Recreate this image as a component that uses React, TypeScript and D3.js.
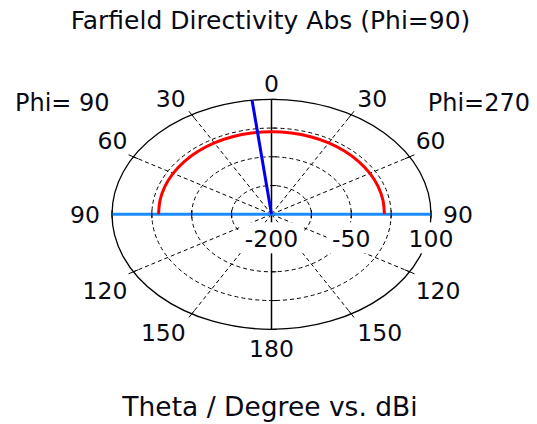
import React from "react";
import * as d3 from "d3";

// Farfield cut, Phi=90 (left half) / Phi=270 (right half)
const thetaDeg = [-90, -80, -70, -60, -50, -40, -30, -20, -10, 0, 10, 20, 30, 40, 50, 60, 70, 80, 90];
const directivity = [12.4, 12.8, 13.3, 13.8, 14.2, 14.6, 15.0, 15.2, 15.35, 15.4, 15.35, 15.2, 15.0, 14.6, 14.2, 13.8, 13.3, 12.8, 12.4];

const mainLobeTheta = -7;
const beamEdges = [-90, 90];

const ringValues = [-125, -50, 25, 100];
const radialLabelValues = [-200, -50, 100];
const spokeAngles = [30, 60, 120, 150, 210, 240, 300, 330];
const angleLabels = [0, 30, 60, 90, 120, 150, 180, -150, -120, -90, -60, -30];

const W = 537;
const H = 424;
const cx = 271.5;
const cy = 214.3;
const rx = 159.5;
const ry = 115;
const font = "'DejaVu Sans', Verdana, sans-serif";
const ink = "#0a0a14";

const rad = (deg: number) => (deg * Math.PI) / 180;

export default function App() {
  const r = d3.scaleLinear().domain([-200, 100]).range([0, 1]);

  const pt = (theta: number, frac: number): [number, number] => [
    cx + Math.sin(rad(theta)) * frac * rx,
    cy - Math.cos(rad(theta)) * frac * ry,
  ];

  const line = d3.line<[number, number]>().curve(d3.curveCatmullRom);
  const curve = line(thetaDeg.map((t, i) => pt(t, r(directivity[i]))));

  const labelPos = (theta: number) => {
    const [ex, ey] = pt(theta, 1);
    const s = Math.sin(rad(theta));
    const c = Math.cos(rad(theta));
    let anchor = "middle";
    let x = ex;
    const gap = Math.abs(c) < 0.01 ? 12 : 6;
    if (s > 0.01) { anchor = "start"; x = ex + gap; }
    else if (s < -0.01) { anchor = "end"; x = ex - gap; }
    let y = ey;
    if (c > 0.01) y = ey - 16;
    else if (c < -0.01) y = ey + 19;
    return { x, y: y + 8.5, anchor };
  };

  const labelW = (v: number) => String(v).length * 14.5;

  return (
    <svg width={W} height={H} style={{ position: "absolute", left: 0, top: 0, background: "#fff" }}>
      <text x={270.5} y={29} textAnchor="middle" fontFamily={font} fontSize={25} fill={ink}>
        Farfield Directivity Abs (Phi=90)
      </text>

      {/* dashed rings */}
      {ringValues.slice(0, -1).map((v) => (
        <ellipse key={v} cx={cx} cy={cy} rx={r(v) * rx} ry={r(v) * ry}
          fill="none" stroke="#000" strokeWidth={1} strokeDasharray="4,3" />
      ))}
      {/* dashed spokes */}
      {spokeAngles.map((a) => {
        const [x2, y2] = pt(a, 1);
        return <line key={a} x1={cx} y1={cy} x2={x2} y2={y2}
          stroke="#000" strokeWidth={1} strokeDasharray="4,3" />;
      })}
      {/* outer ring */}
      <ellipse cx={cx} cy={cy} rx={rx} ry={ry} fill="none" stroke="#000" strokeWidth={1.3} />
      {spokeAngles.map((a) => {
        const [x1, y1] = pt(a, 0.965);
        const [x2, y2] = pt(a, 1.035);
        return <line key={"t" + a} x1={x1} y1={y1} x2={x2} y2={y2} stroke="#000" strokeWidth={1} />;
      })}
      {/* axes */}
      <line x1={cx} y1={cy - ry} x2={cx} y2={cy + ry} stroke="#000" strokeWidth={1.5} />
      <line x1={cx - rx} y1={cy} x2={cx + rx} y2={cy} stroke="#000" strokeWidth={1.5} />
      {ringValues.map((v) => (
        <g key={"a" + v}>
          <line x1={cx} y1={cy - r(v) * ry} x2={cx + 5} y2={cy - r(v) * ry} stroke="#000" strokeWidth={1} />
          <line x1={cx} y1={cy + r(v) * ry} x2={cx + 5} y2={cy + r(v) * ry} stroke="#000" strokeWidth={1} />
        </g>
      ))}

      {/* radial labels with white backing */}
      {radialLabelValues.map((v) => {
        const w = labelW(v) + 6;
        return (
          <g key={"r" + v}>
            <rect x={cx + r(v) * rx - w / 2} y={cy + 8} width={w} height={31} fill="#fff" />
            <text x={cx + r(v) * rx} y={cy + 33} textAnchor="middle"
              fontFamily={font} fontSize={23.5} fill={ink}>{v}</text>
          </g>
        );
      })}

      {/* beam width edges */}
      {beamEdges.map((t) => {
        const [x2, y2] = pt(t, 1);
        return <line key={"b" + t} x1={cx} y1={cy} x2={x2} y2={y2} stroke="#1a8cff" strokeWidth={3} />;
      })}
      {ringValues.map((v) => (
        <g key={"h" + v}>
          <line x1={cx - r(v) * rx} y1={cy - 4} x2={cx - r(v) * rx} y2={cy + 4} stroke="#000" strokeWidth={1} />
          <line x1={cx + r(v) * rx} y1={cy - 4} x2={cx + r(v) * rx} y2={cy + 4} stroke="#000" strokeWidth={1} />
        </g>
      ))}

      {/* directivity */}
      <path d={curve ?? ""} fill="none" stroke="#ff0000" strokeWidth={3} />

      {/* main lobe direction */}
      {(() => {
        const [x2, y2] = pt(mainLobeTheta, 1);
        return <line x1={cx} y1={cy} x2={x2} y2={y2} stroke="#0000ee" strokeWidth={3} />;
      })()}

      {/* angle labels */}
      {angleLabels.map((a) => {
        const p = labelPos(a);
        return (
          <text key={"l" + a} x={p.x} y={p.y} textAnchor={p.anchor}
            fontFamily={font} fontSize={23.5} fill={ink}>{Math.abs(a)}</text>
        );
      })}

      <text x={15} y={111} fontFamily={font} fontSize={24} fill={ink}>Phi= 90</text>
      <text x={530} y={111} textAnchor="end" fontFamily={font} fontSize={24} fill={ink}>Phi=270</text>

      <text x={270} y={416} textAnchor="middle" fontFamily={font} fontSize={26.5} fill={ink}>
        Theta / Degree vs. dBi
      </text>
    </svg>
  );
}
